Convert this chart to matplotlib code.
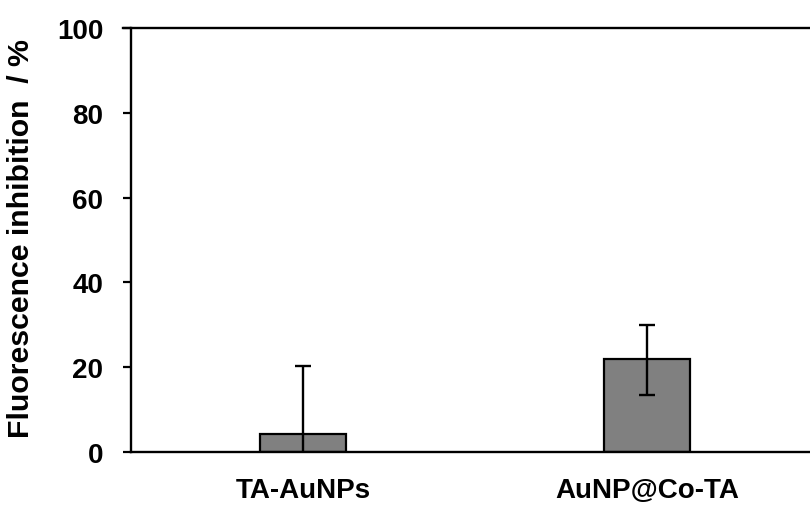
import matplotlib
matplotlib.use("Agg")
import matplotlib.pyplot as plt
import numpy as np

plt.rcParams['font.family'] = ['Liberation Sans', 'DejaVu Sans']
plt.rcParams['font.weight'] = 'bold'

# Samples, mean inhibition and error bars (lower, upper)
samples = ["TA-AuNPs", "AuNP@Co-TA"]
inhibition = [4.2, 22.0]
err_low = [16.0, 8.5]
err_high = [16.0, 8.0]
yticks = [0, 20, 40, 60, 80, 100]

fig = plt.figure(figsize=(8.10, 5.06), dpi=100)
ax = fig.add_axes([131/810, 53/506, 688/810, 424/506])

x = np.arange(len(samples))
ax.bar(x, inhibition, width=0.25, color='#808080', edgecolor='black',
       linewidth=1.6, zorder=2)
ax.errorbar(x, inhibition, yerr=[err_low, err_high], fmt='none',
            ecolor='black', elinewidth=1.7, capsize=5.5, capthick=1.7,
            zorder=3)

ax.set_xlim(-0.5, 1.5)
ax.set_ylim(0, 100)
ax.set_xticks(x)
ax.set_xticklabels(samples, fontsize=20, fontweight='bold')
ax.set_yticks(yticks)
ax.set_yticklabels([str(v) for v in yticks], fontsize=20, fontweight='bold')

ax.tick_params(axis='y', direction='out', length=6, width=1.6, pad=14)
ax.tick_params(axis='x', length=0, pad=18)

for side in ['left', 'bottom', 'top']:
    ax.spines[side].set_linewidth(1.7)
ax.spines['right'].set_visible(False)
ax.spines['top'].set_bounds(-0.524, 1.5)

ax.set_ylabel("Fluorescence inhibition  / %", fontsize=21.8, fontweight='bold')
ax.yaxis.set_label_coords(-0.1395, 0.505)

fig.savefig("out.png", dpi=100)
